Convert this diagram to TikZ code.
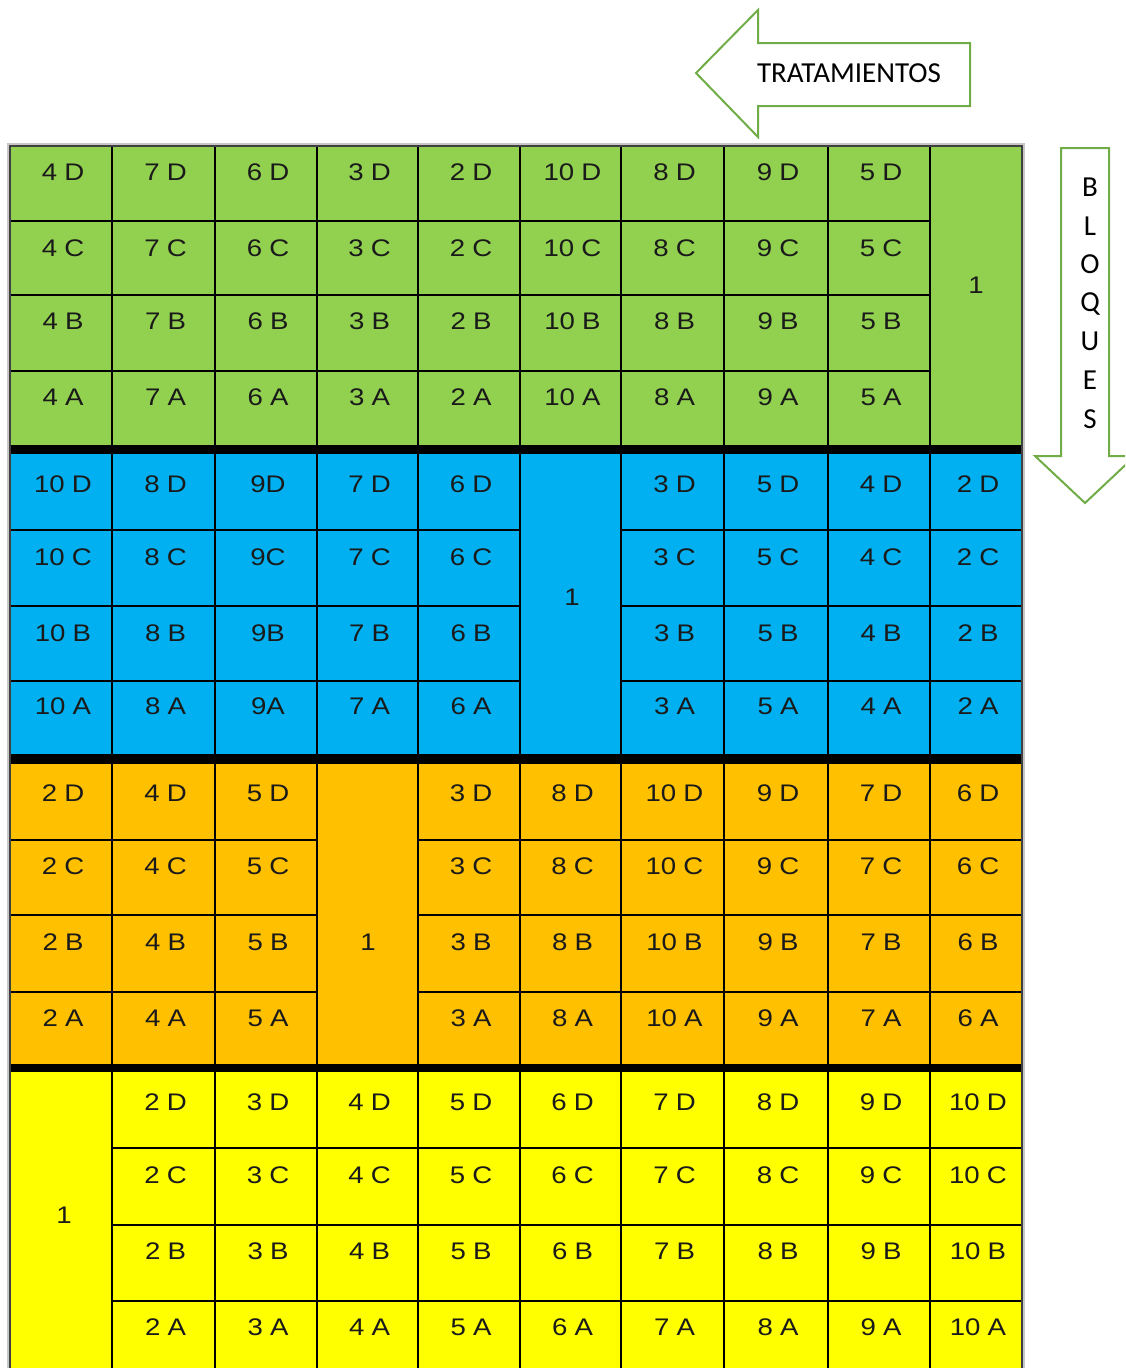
\documentclass[tikz,border=0pt]{standalone}
\usepackage{fontspec}
\setmainfont{Liberation Sans}
\newfontfamily\celdafont[FakeStretch=1.15]{Liberation Sans}
\newfontfamily\carlito{Carlito}
\usetikzlibrary{positioning,calc}
\definecolor{parcVerde}{HTML}{92D050}
\definecolor{parcAzul}{HTML}{00B0F0}
\definecolor{parcNaranja}{HTML}{FFC000}
\definecolor{parcAmarillo}{HTML}{FFFF00}
\definecolor{parcFlecha}{HTML}{70AD47}
\definecolor{parcTinta}{HTML}{1A1A1A}

\begin{document}
\begin{tikzpicture}[x=1pt,y=-1pt,line join=miter]
\useasboundingbox (0,0) rectangle (1125,1368);
\clip (0,0) rectangle (1125,1368);
\path[fill=white] (0,0) rectangle (1125,1368);
\tikzset{celda/.style={draw=black,line width=1.6pt},lbl/.style={text=parcTinta,font=\celdafont\fontsize{24}{28}\selectfont,inner sep=0pt},sepbloque/.style={fill=black},flecha/.style={draw=parcFlecha,line width=2pt,fill=white},rotulo/.style={font=\carlito\fontsize{29}{34}\selectfont,text=black,inner sep=0pt}}
\path[fill=black!22] (7,143) rectangle (1025,1380);
% bloque 1
\foreach \xa/\xb/\nro [count=\c] in {10/112/4,112/215/7,215/317/6,317/418/3,418/520/2,520/621/10,621/724/8,724/828/9,828/930/5}
  \foreach \ya/\yb/\yt/\l in {146/221/172/D,221/295/248/C,295/371/321/B,371/446/397/A}
  {
    \path[celda,fill=parcVerde] (\xa,\ya) rectangle (\xb,\yb);
    \node[lbl] (v\c\l) at ({(\xa+\xb)/2+2},\yt) {\nro\hspace{.3em}\l};
  }
\path[celda,fill=parcVerde] (930,146) rectangle (1022,446);
\node[lbl] (v1) at (976,285) {1};
% bloque 2
\foreach \xa/\xb/\nro [count=\c] in {10/112/10,112/215/8,215/317/{9\hspace{-.3em}},317/418/7,418/520/6,621/724/3,724/828/5,828/930/4,930/1022/2}
  \foreach \ya/\yb/\yt/\l in {453/530/484/D,530/606/557/C,606/681/633/B,681/755/706/A}
  {
    \path[celda,fill=parcAzul] (\xa,\ya) rectangle (\xb,\yb);
    \node[lbl] (a\c\l) at ({(\xa+\xb)/2+2},\yt) {\nro\hspace{.3em}\l};
  }
\path[celda,fill=parcAzul] (520,453) rectangle (621,755);
\node[lbl] (a1) at (572,597) {1};
% bloque 3
\foreach \xa/\xb/\nro [count=\c] in {10/112/2,112/215/4,215/317/5,418/520/3,520/621/8,621/724/10,724/828/9,828/930/7,930/1022/6}
  \foreach \ya/\yb/\yt/\l in {763/840/793/D,840/915/866/C,915/992/942/B,992/1065/1018/A}
  {
    \path[celda,fill=parcNaranja] (\xa,\ya) rectangle (\xb,\yb);
    \node[lbl] (n\c\l) at ({(\xa+\xb)/2+2},\yt) {\nro\hspace{.3em}\l};
  }
\path[celda,fill=parcNaranja] (317,763) rectangle (418,1065);
\node[lbl] (n1) at (368,942) {1};
% bloque 4
\foreach \xa/\xb/\nro [count=\c] in {112/215/2,215/317/3,317/418/4,418/520/5,520/621/6,621/724/7,724/828/8,828/930/9,930/1022/10}
  \foreach \ya/\yb/\yt/\l in {1071/1148/1102/D,1148/1225/1175/C,1225/1301/1251/B,1301/1380/1327/A}
  {
    \path[celda,fill=parcAmarillo] (\xa,\ya) rectangle (\xb,\yb);
    \node[lbl] (m\c\l) at ({(\xa+\xb)/2+2},\yt) {\nro\hspace{.3em}\l};
  }
\path[celda,fill=parcAmarillo] (10,1071) rectangle (112,1380);
\node[lbl] (m1) at (64,1215) {1};
% separaciones entre bloques
\path[sepbloque] (10,445) rectangle (1022,453);
\path[sepbloque] (10,755) rectangle (1022,763);
\path[sepbloque] (10,1065) rectangle (1022,1071);
\draw[black!75,line width=2.5pt] (10,146) rectangle (1022,1380);
% flechas
\path[flecha] (696,73) -- (758,10) -- (758,43) -- (970,43) -- (970,106) -- (758,106) -- (758,137) -- cycle;
\node[rotulo,anchor=base] (trat) at (849,82) {TRATAMIENTOS};
\path[flecha] (1061,148) -- (1109,148) -- (1109,456) -- (1135,456) -- (1085,503) -- (1035,456) -- (1061,456) -- cycle;
\foreach \letra/\yy [count=\i] in {B/187,L/226,O/264,Q/302,U/341,E/380,S/419}
  \node[rotulo,anchor=base] (bq\i) at (1090,\yy+9) {\letra};
\end{tikzpicture}
\end{document}
